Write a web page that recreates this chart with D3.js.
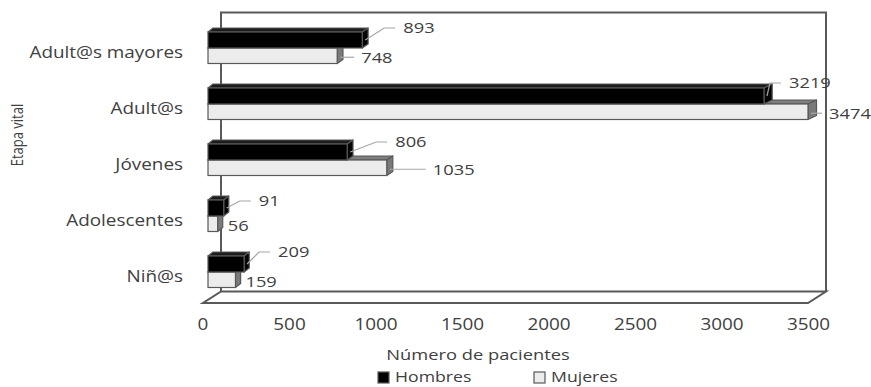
<!DOCTYPE html>
<html>
<head>
<meta charset="utf-8">
<script src="https://cdn.jsdelivr.net/npm/d3@7"></script>
<style>
  html, body { margin: 0; padding: 0; background: #fff; }
  svg { display: block; }
  text { font-family: "Open Sans", "Noto Sans", sans-serif; fill: #404040; }
</style>
</head>
<body>
<svg id="chart" width="871" height="387"></svg>
<script>
// Patients by life stage and sex
const categories = ["Adult@s mayores", "Adult@s", "Jóvenes", "Adolescentes", "Niñ@s"];
const hombres = [893, 3219, 806, 91, 209];
const mujeres = [748, 3474, 1035, 56, 159];
const xTicks = [0, 500, 1000, 1500, 2000, 2500, 3000, 3500];
const seriesNames = ["Hombres", "Mujeres"];
const axisTitleX = "Número de pacientes";
const axisTitleY = "Etapa vital";

// label placement (px offsets from the bar end)
const hLabelShift = [[41, -4], [25, -5], [48, -2], [35, 1], [34, -4]];
const mLabelShift = [24, 21, 46, 10, 10];

const svg = d3.select("#chart");
const SX = 1.22;        // horizontal text stretch
const EDGE = "#595959";

// scales: bars sit in the middle depth plane, tick labels follow the floor's front edge
const xBar = d3.scaleLinear().domain([0, 3500]).range([208, 812.5]);
const xFront = d3.scaleLinear().domain([0, 3500]).range([203, 808.5]);
const y = d3.scaleBand().domain(categories).range([20, 300]).paddingInner(0);
const barH = 15.5;

function label(g, x, yy, str, size, anchor) {
  return g.append("text")
    .attr("transform", `translate(${x},${yy}) scale(${SX},1)`)
    .attr("text-anchor", anchor || "start")
    .attr("dy", "0.36em")
    .style("font-size", size + "px")
    .text(str);
}

// ---- back wall and floor ----
const wall = svg.append("g").attr("fill", "none").attr("stroke", EDGE).attr("stroke-width", 2);
wall.append("path").attr("d", "M221,292 L221,12.5 L826,12.5 L826,292");
wall.append("path").attr("d", "M221,291.5 L826,291.5 L808,303 L203,303 Z")
  .attr("fill", "#fff");

// ---- 3D bars ----
// depth of the bar box grows slightly to the right (perspective)
const depthX = x => 5 + 3.5 * (x - 208) / 600;
const depthY = 4;

function bar3d(g, x0, x1, top, h, front, topFace, side) {
  const d0 = depthX(x0), d1 = depthX(x1);
  const sw = 1.2;
  // top face
  g.append("path")
    .attr("d", `M${x0},${top} L${x0 + d0},${top - depthY} L${x1 + d1},${top - depthY} L${x1},${top} Z`)
    .attr("fill", topFace).attr("stroke", EDGE).attr("stroke-width", sw).attr("stroke-linejoin", "round");
  // side face
  g.append("path")
    .attr("d", `M${x1},${top} L${x1 + d1},${top - depthY} L${x1 + d1},${top + h - depthY} L${x1},${top + h} Z`)
    .attr("fill", side).attr("stroke", EDGE).attr("stroke-width", sw).attr("stroke-linejoin", "round");
  // front face
  g.append("rect")
    .attr("x", x0).attr("y", top).attr("width", x1 - x0).attr("height", h)
    .attr("fill", front).attr("stroke", EDGE).attr("stroke-width", sw);
}

const bars = svg.append("g");
categories.forEach((c, i) => {
  const mid = y(c) + y.bandwidth() / 2;
  // Mujeres (lower bar) first, Hombres drawn over it
  bar3d(bars, xBar(0), xBar(mujeres[i]), mid, barH, "#ececec", "#7f7f7f", "#7a7a7a");
  bar3d(bars, xBar(0), xBar(hombres[i]), mid - barH - 0.5, barH + 0.5, "#000000", "#1c1c1c", "#050505");
});

// ---- data labels ----
const labels = svg.append("g");
const leader = labels.append("g").attr("fill", "none").attr("stroke", "#a6a6a6").attr("stroke-width", 1.2);
categories.forEach((c, i) => {
  const mid = y(c) + y.bandwidth() / 2;
  const topH = mid - barH - 0.5;
  // Hombres
  const hx = xBar(hombres[i]);
  const tx = hx + hLabelShift[i][0];
  const ty = topH + hLabelShift[i][1];
  leader.append("path").attr("d", `M${hx + 3},${topH + 8} L${tx - 19},${ty} L${tx - 8},${ty}`);
  label(labels, tx, ty, hombres[i], 15);
  // Mujeres
  const mx = xBar(mujeres[i]);
  const mtx = mx + mLabelShift[i];
  const mty = mid + barH / 2 + 1.5;
  if (mLabelShift[i] > 15) {
    leader.append("path").attr("d", `M${mx + 3},${mty} L${mtx - 7},${mty}`);
  }
  label(labels, mtx, mty, mujeres[i], 15);
});

// ---- category axis ----
const yAxis = svg.append("g");
categories.forEach(c => {
  label(yAxis, 183, y(c) + y.bandwidth() / 2 + 4.5, c, 15.5, "end");
});
svg.append("text")
  .attr("transform", `translate(17,135) scale(1.3,1) rotate(-90)`)
  .attr("text-anchor", "middle")
  .attr("dy", "0.36em")
  .style("font-size", "13px")
  .text(axisTitleY);

// ---- value axis ----
const xAxis = svg.append("g");
xTicks.forEach(t => label(xAxis, xFront(t), 324.5, t, 15.5, "middle"));
label(svg, 478, 355, axisTitleX, 15, "middle");

// ---- legend ----
const legend = svg.append("g");
const legendItems = [
  { name: seriesNames[0], fill: "#000000", x: 378 },
  { name: seriesNames[1], fill: "#ececec", x: 534 }
];
legendItems.forEach(d => {
  legend.append("rect").attr("x", d.x).attr("y", 372).attr("width", 11).attr("height", 11)
    .attr("fill", d.fill).attr("stroke", EDGE).attr("stroke-width", 1.2);
  label(legend, d.x + 17, 377, d.name, 14.5);
});
</script>
</body>
</html>
